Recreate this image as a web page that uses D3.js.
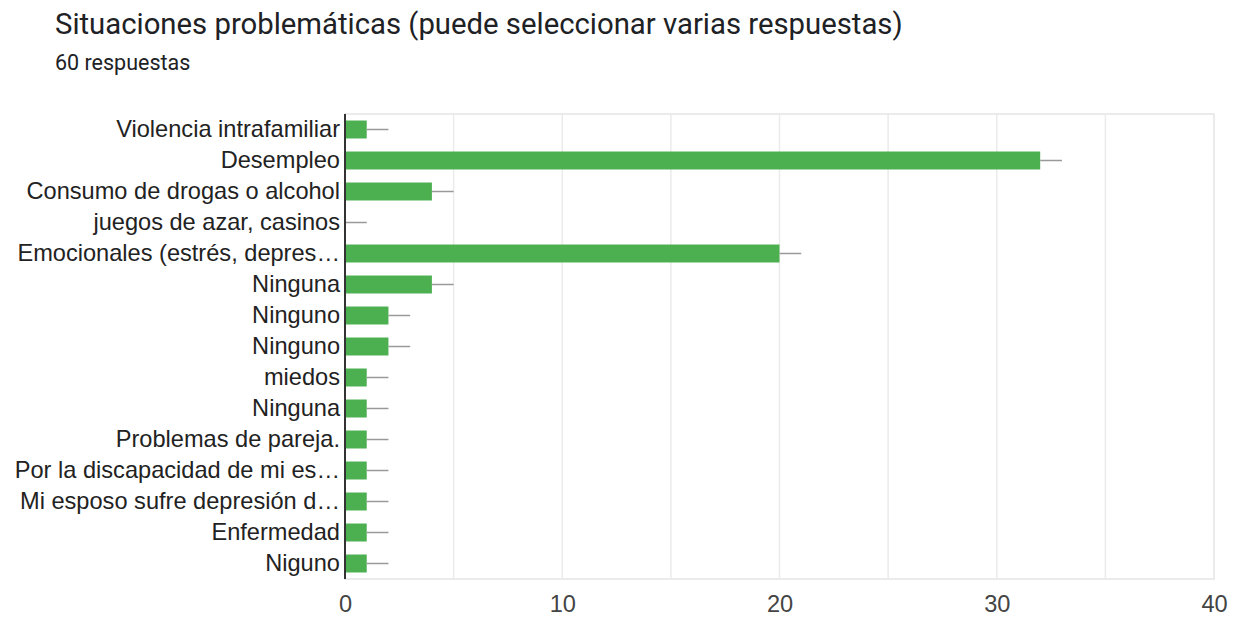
<!DOCTYPE html>
<html>
<head>
<meta charset="utf-8">
<script src="https://cdn.jsdelivr.net/npm/d3@7"></script>
<style>
  body { margin: 0; background: #fff; }
  svg { display: block; }
</style>
</head>
<body>
<svg id="chart"></svg>
<script>
const TITLE = 'Situaciones problemáticas (puede seleccionar varias respuestas)'
const SUBTITLE = '60 respuestas'

// categories as shown (long ones are cut off in the original)
const categories = [
  'Violencia intrafamiliar',
  'Desempleo',
  'Consumo de drogas o alcohol',
  'juegos de azar, casinos',
  'Emocionales (estrés, depres…',
  'Ninguna',
  'Ninguno',
  'Ninguno ',
  'miedos',
  'Ninguna ',
  'Problemas de pareja.',
  'Por la discapacidad de mi es…',
  'Mi esposo sufre depresión d…',
  'Enfermedad',
  'Niguno'
]
const counts = [1, 32, 4, 0, 20, 4, 2, 2, 1, 1, 1, 1, 1, 1, 1]
const gridValues = [0, 5, 10, 15, 20, 25, 30, 35, 40]
const tickValues = [0, 10, 20, 30, 40]

const width = 1235
const height = 618
const margin = { top: 114, right: 21, bottom: 39, left: 345 }

const svg = d3.select('#chart')
  .attr('width', width)
  .attr('height', height)

svg.append('text')
  .attr('x', 55)
  .attr('y', 34)
  .attr('font-family', 'Roboto')
  .attr('font-size', 29.3)
  .attr('fill', '#202124')
  .text(TITLE)

svg.append('text')
  .attr('x', 55)
  .attr('y', 70)
  .attr('font-family', 'Roboto')
  .attr('font-size', 21.5)
  .attr('fill', '#202124')
  .text(SUBTITLE)

const x = d3.scaleLinear()
  .domain([0, 40])
  .range([margin.left, width - margin.right])

const y = d3.scaleBand()
  .domain(categories)
  .range([margin.top, height - margin.bottom])
  .paddingInner(0.42)
  .paddingOuter(0.21)

const rows = categories.map((c, i) => ({ name: c, value: counts[i] }))

// plot frame + gridlines
svg.append('rect')
  .attr('x', x(0))
  .attr('y', margin.top)
  .attr('width', x(40) - x(0))
  .attr('height', height - margin.bottom - margin.top)
  .attr('fill', 'none')
  .attr('stroke', '#ebebeb')
  .attr('stroke-width', 2)

svg.append('g')
  .selectAll('line')
  .data(gridValues.slice(1, -1))
  .join('line')
    .attr('x1', d => x(d))
    .attr('x2', d => x(d))
    .attr('y1', margin.top)
    .attr('y2', height - margin.bottom)
    .attr('stroke', '#ebebeb')
    .attr('stroke-width', 1.5)

// bars
svg.append('g')
  .selectAll('rect')
  .data(rows)
  .join('rect')
    .attr('x', x(0))
    .attr('y', d => y(d.name))
    .attr('width', d => x(d.value) - x(0))
    .attr('height', y.bandwidth())
    .attr('fill', '#4caf50')

// grey whiskers past each bar
svg.append('g')
  .selectAll('line')
  .data(rows)
  .join('line')
    .attr('x1', d => x(d.value))
    .attr('x2', d => x(d.value + 1))
    .attr('y1', d => y(d.name) + y.bandwidth() / 2)
    .attr('y2', d => y(d.name) + y.bandwidth() / 2)
    .attr('stroke', '#999')
    .attr('stroke-width', 1.5)

// baseline
svg.append('line')
  .attr('x1', x(0))
  .attr('x2', x(0))
  .attr('y1', margin.top)
  .attr('y2', height - margin.bottom)
  .attr('stroke', '#333')
  .attr('stroke-width', 2)

// category labels
const yAxis = svg.append('g')
  .attr('transform', `translate(${x(0)},0)`)
  .call(d3.axisLeft(y).tickSize(0).tickPadding(5).tickFormat(d => d.trim()))
yAxis.select('.domain').remove()
yAxis.selectAll('text')
  .attr('font-family', '"Liberation Sans", Arial, sans-serif')
  .attr('font-size', 23.6)
  .attr('fill', '#222')
  .attr('dy', '0.33em')

// value axis labels
const xAxis = svg.append('g')
  .attr('transform', `translate(0,${height - margin.bottom})`)
  .call(d3.axisBottom(x).tickValues(tickValues).tickSize(0).tickPadding(16))
xAxis.select('.domain').remove()
xAxis.selectAll('text')
  .attr('font-family', '"Liberation Sans", Arial, sans-serif')
  .attr('font-size', 23.6)
  .attr('fill', '#444')
</script>
</body>
</html>
